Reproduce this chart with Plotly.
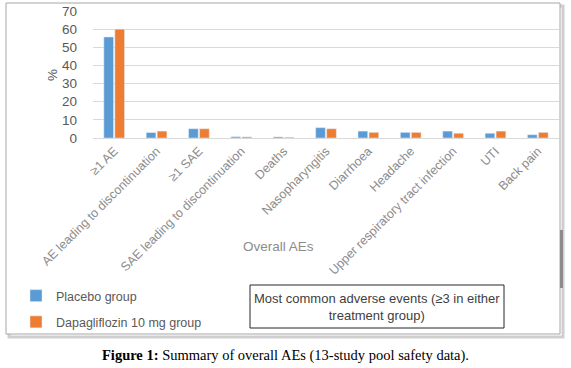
import plotly.graph_objects as go

categories = ["≥1 AE", "AE leading to discontinuation", "≥1 SAE",
              "SAE leading to discontinuation", "Deaths", "Nasopharyngitis",
              "Diarrhoea", "Headache", "Upper respiratory tract infection",
              "UTI", "Back pain"]
placebo = [55.7, 3.0, 5.1, 0.7, 0.6, 5.7, 3.8, 3.1, 3.8, 2.6, 1.8]
dapagliflozin = [60.0, 3.8, 5.1, 0.6, 0.4, 5.1, 3.1, 3.1, 2.6, 3.8, 3.1]
series_names = ["Placebo group", "Dapagliflozin 10 mg group"]
y_ticks = [0, 10, 20, 30, 40, 50, 60, 70]

W, H = 571, 368
L, R, T, B = 93, 12, 11, 230
PW = W - L - R
PH = H - T - B

def px(x):
    return (x - L) / PW

def py(y):
    return (H - B - y) / PH

fig = go.Figure()
fig.add_trace(go.Bar(x=categories, y=placebo, name=series_names[0],
                     marker_color="#5B9BD5", legendgroup="a"))
fig.add_trace(go.Bar(x=categories, y=dapagliflozin, name=series_names[1],
                     marker_color="#ED7D31", legendgroup="b"))

font = "Liberation Sans, Arial, sans-serif"

fig.update_layout(
    width=W, height=H, autosize=False,
    margin=dict(l=L, r=R, t=T, b=B, autoexpand=False),
    paper_bgcolor="white", plot_bgcolor="white",
    barmode="group", bargap=0.48, bargroupgap=0.12,
    font=dict(family=font, color="#595959"),
    showlegend=True,
    legend=dict(x=px(16), y=py(281),
                xanchor="left", yanchor="top", orientation="v",
                tracegroupgap=7, bgcolor="rgba(0,0,0,0)",
                font=dict(size=12.5, color="#595959"),
                itemwidth=30),
    xaxis=dict(tickangle=-45, tickfont=dict(size=12.5, color="#8c8c8c"),
               showline=True, linecolor="#d9d9d9", linewidth=1,
               ticks="", automargin=False, showgrid=False),
    yaxis=dict(range=[0, 70], tickvals=y_ticks, showgrid=True,
               gridcolor="#d9d9d9", gridwidth=1, zeroline=False,
               tickfont=dict(size=13.5, color="#595959"),
               ticklabelstandoff=15, automargin=False, showline=False),
)

# axis titles
fig.add_annotation(text="%", x=px(52), y=py(75), xref="paper", yref="paper",
                   xanchor="center", yanchor="middle",
                   showarrow=False, textangle=-90,
                   font=dict(size=13.5, color="#595959"))
fig.add_annotation(text="Overall AEs", x=px(278), y=py(246), xref="paper",
                   yref="paper", showarrow=False,
                   xanchor="center", yanchor="middle",
                   font=dict(size=13.5, color="#8c8c8c"))

# outer frame with shadow
fig.add_shape(type="rect", xref="paper", yref="paper",
              x0=px(9), x1=px(563), y0=py(6), y1=py(337),
              line=dict(color="#cfcfcf", width=3), layer="below")
fig.add_shape(type="rect", xref="paper", yref="paper",
              x0=px(6), x1=px(560), y0=py(3), y1=py(334),
              line=dict(color="#a6a6a6", width=1), fillcolor="white",
              layer="below")
fig.add_shape(type="line", xref="paper", yref="paper",
              x0=px(561.5), x1=px(561.5), y0=py(230), y1=py(288),
              line=dict(color="#8c8c8c", width=3))

# note box
fig.add_shape(type="rect", xref="paper", yref="paper",
              x0=px(250), x1=px(504), y0=py(285), y1=py(328),
              line=dict(color="#262626", width=1))
fig.add_annotation(text="Most common adverse events (≥3 in either<br>treatment group)",
                   x=px(377), y=py(306.5), xref="paper", yref="paper",
                   xanchor="center", yanchor="middle",
                   showarrow=False, align="center",
                   font=dict(size=13, color="#404040", family=font))

# caption
fig.add_annotation(text="<b>Figure 1:</b> Summary of overall AEs (13-study pool safety data).",
                   x=px(285), y=py(355), xref="paper", yref="paper",
                   xanchor="center", yanchor="middle",
                   showarrow=False,
                   font=dict(size=14.5, color="black",
                             family="Liberation Serif, Times New Roman, serif"))

fig.write_html("out.html", config={"displayModeBar": False},
               post_script="document.body.style.margin='0px';")
